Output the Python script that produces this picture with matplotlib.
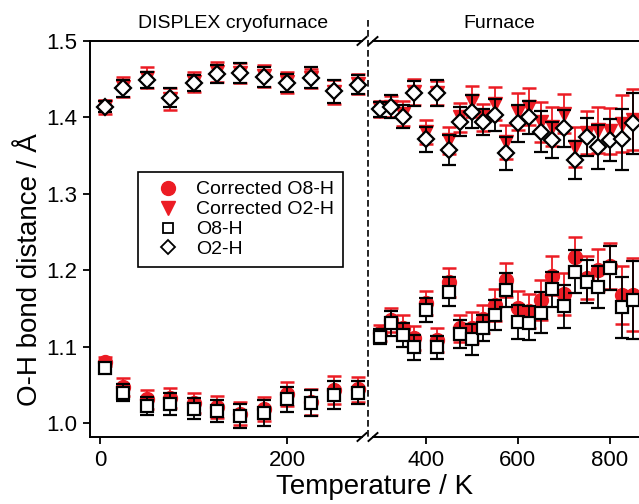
import numpy as np
import matplotlib
matplotlib.use("Agg")
import matplotlib.pyplot as plt
from matplotlib.lines import Line2D

plt.rcParams["font.family"] = ["Liberation Sans", "DejaVu Sans"]

# ── Data: DISPLEX cryofurnace ────────────────────────────────────────────────
T_CRYO = [5, 25, 50, 75, 100, 125, 150, 175, 200, 225, 250, 275]

O8H_CRYO     = [1.0716, 1.0397, 1.0227, 1.0249, 1.0190, 1.0157, 1.0090, 1.0135, 1.0310, 1.0266, 1.0366, 1.0397]
O8H_CRYO_ERR = [0.005, 0.011, 0.012, 0.014, 0.014, 0.014, 0.016, 0.017, 0.016, 0.017, 0.018, 0.015]
O2H_CRYO     = [1.414, 1.438, 1.449, 1.426, 1.445, 1.457, 1.458, 1.453, 1.445, 1.452, 1.434, 1.443]
O2H_CRYO_ERR = [0.007, 0.011, 0.011, 0.013, 0.011, 0.0115, 0.0135, 0.0135, 0.012, 0.014, 0.015, 0.012]

C_O8H_CRYO     = [1.080, 1.0475, 1.031, 1.033, 1.026, 1.021, 1.012, 1.018, 1.038, 1.028, 1.043, 1.044]
C_O8H_CRYO_ERR = [0.006, 0.012, 0.012, 0.013, 0.013, 0.014, 0.015, 0.016, 0.016, 0.017, 0.018, 0.016]
C_O2H_CRYO     = [1.414, 1.440, 1.452, 1.424, 1.446, 1.459, 1.458, 1.454, 1.446, 1.451, 1.433, 1.444]
C_O2H_CRYO_ERR = [0.009, 0.013, 0.014, 0.014, 0.013, 0.013, 0.013, 0.014, 0.014, 0.013, 0.016, 0.013]

# ── Data: Furnace ────────────────────────────────────────────────────────────
T_FURN = [300, 325, 350, 375, 400, 425, 450, 475, 500, 525, 550, 575,
          600, 625, 650, 675, 700, 725, 750, 775, 800, 825, 850]

O8H_FURN     = [1.113, 1.1305, 1.1152, 1.099, 1.148, 1.099, 1.172, 1.1165, 1.1095, 1.124, 1.1414, 1.174,
                1.1326, 1.1313, 1.1444, 1.175, 1.153, 1.198, 1.185, 1.178, 1.2025, 1.1514, 1.161]
O8H_FURN_ERR = [0.010, 0.016, 0.016, 0.016, 0.016, 0.015, 0.0185, 0.0185, 0.020, 0.017, 0.020, 0.022,
                0.022, 0.022, 0.027, 0.023, 0.028, 0.028, 0.028, 0.028, 0.029, 0.040, 0.051]
O2H_FURN     = [1.4106, 1.414, 1.401, 1.4315, 1.3713, 1.4315, 1.3573, 1.3944, 1.4075, 1.3944, 1.403, 1.353,
                1.3922, 1.400, 1.3813, 1.3704, 1.3857, 1.3442, 1.374, 1.3609, 1.3704, 1.3713, 1.3922]
O2H_FURN_ERR = [0.010, 0.015, 0.015, 0.016, 0.016, 0.017, 0.020, 0.019, 0.022, 0.017, 0.021, 0.022,
                0.024, 0.022, 0.027, 0.024, 0.024, 0.025, 0.025, 0.029, 0.028, 0.040, 0.040]

C_O8H_FURN     = [1.118, 1.135, 1.125, 1.111, 1.157, 1.109, 1.184, 1.124, 1.125, 1.136, 1.154, 1.187,
                  1.150, 1.147, 1.161, 1.193, 1.169, 1.2176, 1.190, 1.2003, 1.205, 1.1675, 1.168]
C_O8H_FURN_ERR = [0.010, 0.016, 0.016, 0.016, 0.016, 0.016, 0.019, 0.018, 0.020, 0.018, 0.021, 0.022,
                  0.023, 0.022, 0.026, 0.025, 0.027, 0.026, 0.028, 0.028, 0.030, 0.038, 0.048]
C_O2H_FURN     = [1.411, 1.414, 1.405, 1.433, 1.381, 1.432, 1.370, 1.400, 1.421, 1.400, 1.418, 1.368,
                  1.4075, 1.414, 1.394, 1.388, 1.405, 1.361, 1.380, 1.3835, 1.382, 1.392, 1.397]
C_O2H_FURN_ERR = [0.010, 0.014, 0.016, 0.017, 0.016, 0.016, 0.018, 0.019, 0.020, 0.018, 0.022, 0.022,
                  0.024, 0.024, 0.026, 0.025, 0.025, 0.026, 0.028, 0.030, 0.030, 0.037, 0.040]

RED = "#ec1c24"
W, H = 639, 504

def fx(px): return px / W
def fy(py): return 1 - py / H

# ── Plotting ─────────────────────────────────────────────────────────────────
def draw(ax, t, o8, o8e, o2, o2e, c8, c8e, c2, c2e):
    kw = dict(capsize=4.7, elinewidth=1.3, capthick=1.8, ls="none")
    ax.errorbar(t, c8, yerr=c8e, fmt="o", color=RED, ecolor=RED, ms=10, zorder=2, **kw)
    ax.errorbar(t, c2, yerr=c2e, fmt="v", color=RED, ecolor=RED, ms=10, zorder=2, **kw)
    ax.errorbar(t, o8, yerr=o8e, fmt="s", mfc="white", mec="black", ecolor="black", mew=1.6, ms=8.2, zorder=3, **kw)
    ax.errorbar(t, o2, yerr=o2e, fmt="D", mfc="white", mec="black", ecolor="black", mew=1.6, ms=8.5, zorder=3, **kw)

fig = plt.figure(figsize=(W / 100, H / 100), dpi=100)
x_break = 368.3
ax1 = fig.add_axes([fx(90), fy(437), fx(x_break) - fx(90), fy(41) - fy(437)])
ax2 = fig.add_axes([fx(x_break), fy(437), 1 - fx(x_break), fy(41) - fy(437)])

draw(ax1, T_CRYO, O8H_CRYO, O8H_CRYO_ERR, O2H_CRYO, O2H_CRYO_ERR,
     C_O8H_CRYO, C_O8H_CRYO_ERR, C_O2H_CRYO, C_O2H_CRYO_ERR)
draw(ax2, T_FURN, O8H_FURN, O8H_FURN_ERR, O2H_FURN, O2H_FURN_ERR,
     C_O8H_FURN, C_O8H_FURN_ERR, C_O2H_FURN, C_O2H_FURN_ERR)

ylim = (0.9817, 1.5)
ax1.set_xlim(-10.7, 286.5)
ax2.set_xlim(275, 863)
for ax in (ax1, ax2):
    ax.set_ylim(*ylim)
    ax.tick_params(direction="out", length=5, width=1.3, labelsize=16, pad=4)
    for s in ax.spines.values():
        s.set_linewidth(1.4)

ax1.set_xticks([0, 200])
ax1.set_yticks(np.arange(1.0, 1.51, 0.1))
ax1.set_yticklabels([f"{v:.1f}" for v in np.arange(1.0, 1.51, 0.1)])
ax1.spines["right"].set_visible(False)
ax1.spines["top"].set_bounds(-10.7, 279.8)
ax1.spines["bottom"].set_bounds(-10.7, 279.8)

ax2.set_xticks([400, 600, 800])
ax2.set_yticks([])
ax2.spines["left"].set_visible(False)
ax2.spines["right"].set_visible(False)
ax2.spines["top"].set_bounds(284.8, 863)
ax2.spines["bottom"].set_bounds(284.8, 863)

# break marks and dashed divider
for yb in (41, 437):
    for xc in (362, 373):
        fig.add_artist(Line2D([fx(xc - 4.5), fx(xc + 4.5)], [fy(yb + 4), fy(yb - 4)],
                              color="black", lw=1.4))
fig.add_artist(Line2D([fx(x_break), fx(x_break)], [fy(20), fy(437)], color="black",
                      lw=1.2, ls=(0, (4, 2))))

fig.text(fx(233), fy(23), "DISPLEX cryofurnace", fontsize=14, ha="center", va="center")
fig.text(fx(499), fy(23), "Furnace", fontsize=14, ha="center", va="center")
fig.text(fx(375), fy(487), "Temperature / K", fontsize=20, ha="center", va="center")
fig.text(fx(30), fy(270), "O-H bond distance / Å", fontsize=20, ha="center", va="center", rotation=90)

handles = [
    Line2D([], [], ls="none", marker="o", color=RED, ms=10),
    Line2D([], [], ls="none", marker="v", color=RED, ms=10),
    Line2D([], [], ls="none", marker="s", mfc="white", mec="black", mew=1.3, ms=7.5),
    Line2D([], [], ls="none", marker="D", mfc="white", mec="black", mew=1.3, ms=7.5),
]
labels = ["Corrected O8-H", "Corrected O2-H", "O8-H", "O2-H"]
leg = ax1.legend(handles, labels, loc="upper left", bbox_to_anchor=(0.1725, 0.669),
                 borderaxespad=0, fontsize=14, fancybox=False, edgecolor="black",
                 framealpha=1, labelspacing=0.12, handletextpad=0.35, borderpad=0.45,
                 handlelength=2.2)
leg.get_frame().set_linewidth(1.2)

fig.savefig("out.png", dpi=100)
